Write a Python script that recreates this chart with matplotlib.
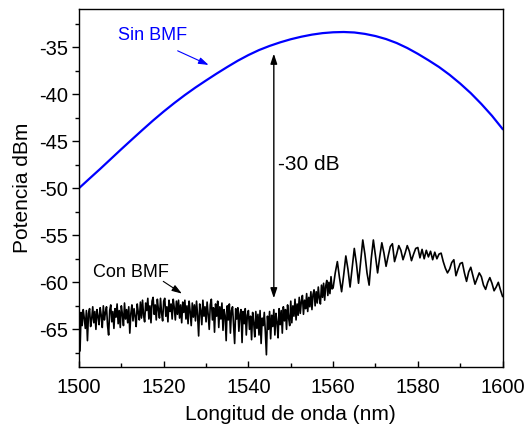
import numpy as np
import matplotlib
matplotlib.use('Agg')
import matplotlib.pyplot as plt
from matplotlib.ticker import MultipleLocator

plt.rcParams['font.family'] = ['Liberation Sans', 'DejaVu Sans']
plt.rcParams['axes.unicode_minus'] = False

# Sin BMF (blue), every 2.5 nm
sin_bmf_db = [-50.0, -48.97, -47.95, -46.9, -45.85, -44.82, -43.8, -42.8, -41.85, -40.95,
              -40.1, -39.3, -38.55, -37.82, -37.12, -36.45, -35.85, -35.32, -34.88, -34.5,
              -34.17, -33.9, -33.68, -33.52, -33.43, -33.4, -33.45, -33.6, -33.83, -34.15,
              -34.57, -35.1, -35.72, -36.4, -37.12, -37.95, -38.88, -39.9, -41.05, -42.3,
              -43.7]
sin_bmf_wl = np.linspace(1500, 1600, len(sin_bmf_db))

# Con BMF (black), noisy part 1500-1559.75 nm every 0.25 nm
con_noise_db = [
    -63.6, -67.3, -63.2, -64.6, -62.9, -63.8, -64.9, -63.0, -66.2, -63.3,
    -62.8, -64.7, -63.9, -62.6, -64.3, -63.1, -65.0, -62.9, -63.6, -64.5,
    -62.7, -63.5, -64.8, -62.5, -64.0, -63.2, -62.6, -64.6, -65.6, -63.0,
    -62.4, -64.2, -63.1, -64.9, -62.8, -63.7, -62.3, -64.4, -63.0, -64.8,
    -62.5, -63.4, -64.6, -62.2, -63.9, -62.9, -64.3, -62.6, -65.4, -63.3,
    -62.4, -64.1, -62.8, -63.6, -64.7, -62.3, -63.2, -64.0, -62.1, -63.8,
    -61.9, -63.5, -64.2, -62.2, -63.0, -61.7, -63.9, -62.5, -64.3, -62.0,
    -61.6, -63.4, -62.4, -64.0, -61.8, -62.9, -63.8, -61.7, -63.3, -64.1,
    -62.0, -61.7, -63.6, -62.6, -64.2, -61.9, -63.1, -62.3, -63.9, -61.8,
    -62.7, -64.0, -62.0, -63.4, -61.9, -63.8, -62.4, -64.3, -62.1, -63.2,
    -61.9, -63.9, -62.5, -64.4, -62.0, -63.1, -64.6, -62.2, -63.7, -62.4,
    -64.1, -62.0, -63.5, -65.7, -62.3, -63.0, -64.5, -61.9, -63.6, -62.6,
    -64.2, -62.1, -63.4, -65.0, -62.4, -61.8, -64.0, -62.7, -65.3, -62.3,
    -63.6, -62.0, -64.8, -62.6, -63.9, -62.2, -65.1, -62.9, -63.5, -66.2,
    -62.5, -64.0, -62.3, -65.4, -63.0, -62.6, -64.6, -66.5, -62.8, -63.9,
    -62.7, -65.2, -63.4, -62.9, -66.4, -63.1, -64.4, -62.8, -65.6, -63.5,
    -63.0, -65.0, -63.6, -66.1, -63.2, -64.3, -65.8, -63.1, -64.9, -63.4,
    -65.6, -63.0, -66.5, -63.8, -64.6, -63.2, -65.3, -67.7, -63.6, -65.0,
    -63.1, -66.0, -63.5, -64.7, -62.9, -65.6, -63.3, -64.2, -65.9, -62.8,
    -64.5, -63.0, -65.4, -62.6, -64.1, -62.9, -65.0, -62.4, -63.8, -64.6,
    -62.0, -64.3, -62.5, -63.6, -61.8, -64.0, -62.3, -63.5, -61.6, -63.3,
    -62.0, -61.4, -63.4, -61.9, -62.8, -61.2, -63.1, -61.6, -62.6, -61.0,
    -62.9, -61.3, -60.8, -62.5, -61.0, -62.2, -60.5, -61.7, -62.3, -60.3,
    -61.6, -60.1, -61.9, -60.4, -59.8, -61.4, -60.0, -61.2, -59.4, -60.7,
]
con_noise_wl = np.linspace(1500, 1559.75, len(con_noise_db))

# Con BMF (black), fringe part 1560-1600 nm every 0.5 nm
con_fringe_db = [
    -60.6, -59.0, -57.8, -59.5, -61.0, -59.2, -57.2, -58.6, -60.5, -58.4,
    -56.4, -58.0, -60.1, -57.8, -55.5, -57.0, -59.0, -60.3, -57.5, -55.5,
    -57.2, -59.0, -57.3, -55.8, -56.9, -58.3, -57.2, -56.2, -55.9, -57.8,
    -57.0, -56.1, -56.6, -57.6, -56.9, -56.1, -56.7, -57.7, -57.0, -56.4,
    -56.3, -57.4, -56.5, -57.5, -56.6, -57.3, -56.7, -57.6, -56.8, -57.5,
    -57.0, -56.9, -57.8, -58.5, -59.0, -58.6, -57.9, -57.6, -59.3, -58.6,
    -58.0, -57.9, -59.0, -59.9, -58.9, -58.4, -59.3, -60.2, -59.6, -59.0,
    -59.4, -60.3, -60.75, -60.0, -59.5, -60.1, -60.9, -60.5, -60.0, -60.8,
    -61.5,
]
con_fringe_wl = np.linspace(1560, 1600, len(con_fringe_db))

con_bmf_wl = np.concatenate([con_noise_wl, con_fringe_wl])
con_bmf_db = np.concatenate([con_noise_db, con_fringe_db])

fig = plt.figure(figsize=(5.29, 4.30), dpi=100)
ax = fig.add_axes([0.1493, 0.1465, 0.8007, 0.8316])

ax.plot(sin_bmf_wl, sin_bmf_db, color='#0000ff', lw=1.6)
ax.plot(con_bmf_wl, con_bmf_db, color='black', lw=1.2)

ax.set_xlim(1500, 1600)
ax.set_ylim(-69, -31)
ax.xaxis.set_major_locator(MultipleLocator(20))
ax.xaxis.set_minor_locator(MultipleLocator(10))
ax.yaxis.set_minor_locator(MultipleLocator(2.5))
ax.set_yticks([-65, -60, -55, -50, -45, -40, -35])

ax.tick_params(axis='x', which='both', direction='in', top=False, labelsize=14.5, pad=8)
ax.tick_params(axis='x', which='major', length=4, width=1)
ax.tick_params(axis='x', which='minor', length=3, width=1)
ax.tick_params(axis='y', which='both', direction='out', right=False, labelsize=14.5, pad=3)
ax.tick_params(axis='y', which='major', length=5, width=1)
ax.tick_params(axis='y', which='minor', length=3, width=1)
for s in ax.spines.values():
    s.set_linewidth(1.0)

ax.set_xlabel('Longitud de onda (nm)', fontsize=15, labelpad=6)
ax.set_ylabel('Potencia dBm', fontsize=15, labelpad=5)

# annotations
ax.annotate('', xy=(1546, -35.7), xytext=(1546, -61.7),
            arrowprops=dict(arrowstyle='<|-|>,head_length=0.6,head_width=0.2',
                            color='black', lw=1.0, mutation_scale=10, shrinkA=0, shrinkB=0))
ax.text(1546.9, -47.5, '-30 dB', fontsize=15, va='center', ha='left')

ax.text(1509.3, -33.8, 'Sin BMF', fontsize=13, color='#0000ff', va='center', ha='left')
ax.annotate('', xy=(1530.6, -36.9), xytext=(1523.3, -35.4),
            arrowprops=dict(arrowstyle='-|>,head_length=0.6,head_width=0.2',
                            color='#0000ff', lw=0.8, mutation_scale=10, shrinkA=0, shrinkB=0))

ax.text(1503.2, -59.0, 'Con BMF', fontsize=13, color='black', va='center', ha='left')
ax.annotate('', xy=(1524.3, -61.2), xytext=(1519.9, -59.9),
            arrowprops=dict(arrowstyle='-|>,head_length=0.6,head_width=0.2',
                            color='black', lw=0.8, mutation_scale=10, shrinkA=0, shrinkB=0))

fig.savefig('out.png', dpi=100)
